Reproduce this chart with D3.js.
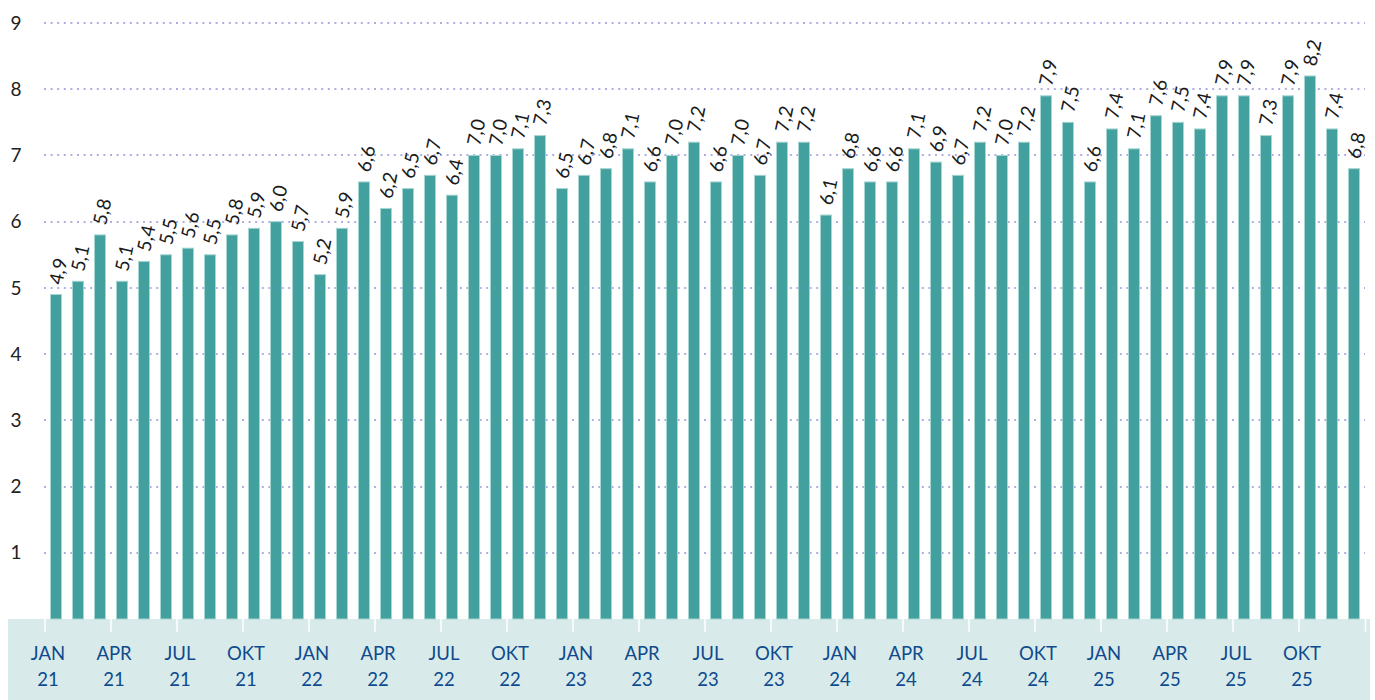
<!DOCTYPE html>
<html>
<head>
<meta charset="utf-8">
<script src="https://cdn.jsdelivr.net/npm/d3@7"></script>
<style>
  body { margin: 0; background: #fff; }
  svg { display: block; font-family: Lato, "Open Sans", sans-serif; }
</style>
</head>
<body>
<div id="chart"></div>
<script>
var width = 1375, height = 700;

var months = ["JAN","FEB","MAR","APR","MAI","JUN","JUL","AUG","SEP","OKT","NOV","DES"];
var years = ["21","22","23","24","25"];
var values = [
  4.9, 5.1, 5.8, 5.1, 5.4, 5.5, 5.6, 5.5, 5.8, 5.9, 6.0, 5.7,
  5.2, 5.9, 6.6, 6.2, 6.5, 6.7, 6.4, 7.0, 7.0, 7.1, 7.3, 6.5,
  6.7, 6.8, 7.1, 6.6, 7.0, 7.2, 6.6, 7.0, 6.7, 7.2, 7.2, 6.1,
  6.8, 6.6, 6.6, 7.1, 6.9, 6.7, 7.2, 7.0, 7.2, 7.9, 7.5, 6.6,
  7.4, 7.1, 7.6, 7.5, 7.4, 7.9, 7.9, 7.3, 7.9, 8.2, 7.4, 6.8
];
var yTicks = [1,2,3,4,5,6,7,8,9];

var data = values.map(function(v, i) {
  return { i: i, value: v, month: months[i % 12], year: years[Math.floor(i / 12)] };
});

var svg = d3.select("#chart").append("svg")
  .attr("width", width)
  .attr("height", height);

var x = d3.scaleBand()
  .domain(d3.range(values.length))
  .range([45, 1365])
  .paddingInner(0.5)
  .paddingOuter(0.25);

var y = d3.scaleLinear().domain([0, 9]).range([619, 23]);

var fmt = function(v) { return d3.format(".1f")(v).replace(".", ","); };

// grid lines
svg.append("g").selectAll("line")
  .data(yTicks)
  .enter()
  .append("line")
  .attr("x1", 44).attr("x2", 1365)
  .attr("y1", function(d){ return Math.round(y(d)); })
  .attr("y2", function(d){ return Math.round(y(d)); })
  .attr("stroke", "#aeaee2")
  .attr("stroke-width", 2)
  .attr("stroke-dasharray", "2,4.6");

// y labels
svg.append("g").selectAll("text")
  .data(yTicks)
  .enter()
  .append("text")
  .attr("x", 16)
  .attr("y", function(d){ return y(d); })
  .attr("dy", "0.35em")
  .attr("text-anchor", "middle")
  .attr("font-size", 19)
  .attr("fill", "#222")
  .text(function(d){ return d; });

// axis band
svg.append("rect")
  .attr("x", 8).attr("y", 619)
  .attr("width", 1362).attr("height", 81)
  .attr("fill", "#d9eaea");

// bars
svg.append("g").selectAll("rect")
  .data(data)
  .enter()
  .append("rect")
  .attr("x", function(d){ return x(d.i); })
  .attr("y", function(d){ return y(d.value); })
  .attr("width", x.bandwidth())
  .attr("height", function(d){ return y(0) - y(d.value); })
  .attr("fill", "#42a09e")
  .attr("stroke", "#a6d6d2")
  .attr("stroke-width", 1);

// value labels
svg.append("g").selectAll("text")
  .data(data)
  .enter()
  .append("text")
  .attr("transform", function(d){
    var cx = x(d.i) + x.bandwidth() / 2 + 6;
    var cy = y(d.value) - 9;
    return "translate(" + cx + "," + cy + ") rotate(-78)";
  })
  .attr("font-size", 19)
  .attr("fill", "#1a1a1a")
  .text(function(d){ return fmt(d.value); });

// x ticks and labels (quarters)
var quarters = data.filter(function(d){ return d.i % 3 === 0; });
var tickX = function(d){ return x(d.i) - (x.step() - x.bandwidth()) / 2; };

svg.append("g").selectAll("line")
  .data(quarters.concat([{ i: values.length }]))
  .enter()
  .append("line")
  .attr("x1", function(d){ return d.i < values.length ? tickX(d) : 1365.5; })
  .attr("x2", function(d){ return d.i < values.length ? tickX(d) : 1365.5; })
  .attr("y1", 619).attr("y2", 632)
  .attr("stroke", "#fff")
  .attr("stroke-width", 1.5);

var xl = svg.append("g").selectAll("text")
  .data(quarters)
  .enter()
  .append("text")
  .attr("x", function(d){ return tickX(d) + 3; })
  .attr("text-anchor", "middle")
  .attr("font-size", 18.5)
  .attr("fill", "#0e4a8e");

xl.append("tspan")
  .attr("x", function(d){ return tickX(d) + 3; })
  .attr("y", 660)
  .text(function(d){ return d.month; });
xl.append("tspan")
  .attr("x", function(d){ return tickX(d) + 3; })
  .attr("y", 686)
  .text(function(d){ return d.year; });
</script>
</body>
</html>
